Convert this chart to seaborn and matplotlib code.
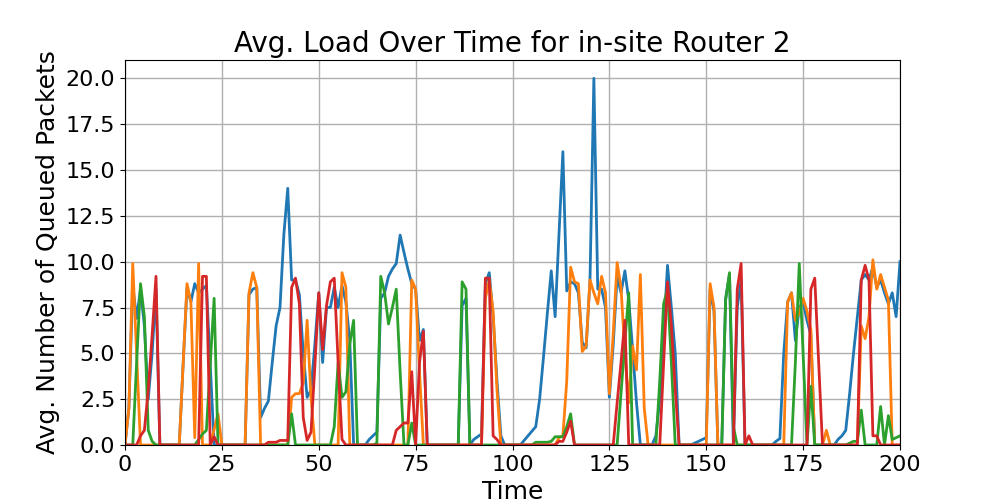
import matplotlib
matplotlib.use("Agg")
import matplotlib.pyplot as plt
import seaborn as sns
import pandas as pd
import numpy as np

time = list(range(0, 201))

# values, one per time step (rows of 10)
blue = [
    0, 2.0, 8.7, 6.9, 8.5, 6.5, 2.5, 5.0, 8.5, 0,
    0, 0, 0, 0, 0, 4.4, 8.6, 7.8, 8.8, 8.3,
    8.5, 8.7, 4.3, 0, 0, 0, 0, 0, 0, 0,
    0, 0, 8.2, 8.5, 8.6, 1.5, 2.0, 2.4, 4.5, 6.5,
    7.5, 11.5, 14.0, 9.0, 9.0, 8.2, 5.0, 2.6, 3.0, 5.5,
    8.3, 4.5, 7.5, 7.5, 8.6, 7.5, 8.7, 7.8, 5.7, 0,
    0, 0, 0, 0.3, 0.5, 0.7, 8.0, 8.3, 9.2, 9.6,
    9.9, 11.45, 10.5, 9.6, 8.8, 8.5, 5.7, 6.3, 0, 0,
    0, 0, 0, 0, 0, 0, 0, 7.6, 8.0, 0,
    0.3, 0.45, 0.6, 8.8, 9.4, 7.0, 3.5, 0.5, 0, 0,
    0, 0, 0, 0.25, 0.5, 0.75, 1.0, 2.5, 4.8, 7.2,
    9.5, 7.0, 11.5, 16.0, 8.4, 8.9, 8.8, 8.3, 5.6, 5.3,
    9.0, 20.0, 8.5, 8.5, 7.5, 2.6, 5.5, 9.2, 8.3, 9.5,
    7.9, 5.2, 2.3, 0, 0, 0, 0, 0.5, 2.5, 6.0,
    9.8, 7.5, 5.0, 0, 0, 0, 0, 0.1, 0.2, 0.3,
    0.4, 8.5, 7.3, 0, 0, 8.0, 9.3, 0, 7.5, 9.0,
    0, 0, 0, 0, 0, 0, 0, 0, 0.2, 0.35,
    5.0, 7.8, 8.3, 5.7, 7.5, 7.8, 6.8, 6.0, 0, 0,
    0, 0, 0, 0, 0.3, 0.5, 0.8, 2.8, 5.0, 7.0,
    9.0, 9.3, 9.0, 9.7, 8.6, 9.0, 8.3, 7.7, 8.3, 7.0,
    10.0,
]

orange = [
    0, 2.0, 9.9, 5.0, 0, 0, 0, 0, 0, 0,
    0, 0, 0, 0, 0, 4.4, 8.8, 7.8, 0.4, 9.9,
    0, 0, 0, 0.85, 1.7, 0, 0, 0, 0, 0,
    0, 0, 8.3, 9.4, 8.6, 0, 0, 0, 0, 0,
    0, 0, 0, 2.6, 2.8, 2.8, 3.4, 6.8, 2.6, 0,
    0, 0, 0, 0, 0, 0, 9.4, 8.6, 0, 0,
    0, 0, 0, 0, 0, 0, 0, 0, 0, 0,
    0, 0, 0, 0, 9.0, 8.5, 4.0, 0, 0, 0,
    0, 0, 0, 0, 0, 0, 0, 0, 0, 0,
    0, 0, 0, 8.0, 9.0, 7.3, 3.0, 0, 0, 0,
    0, 0, 0, 0, 0, 0, 0, 0, 0, 0,
    0, 0, 0.4, 0.5, 3.5, 9.7, 8.9, 8.8, 5.1, 5.4,
    9.0, 8.3, 7.7, 9.2, 8.3, 2.8, 6.1, 9.95, 8.6, 5.0,
    2.3, 5.4, 4.1, 9.3, 2.0, 0, 0, 0, 0, 0,
    0, 0, 0, 0, 0, 0, 0, 0, 0, 0,
    0, 8.8, 7.5, 0, 0, 0, 0, 0, 0, 0,
    0, 0, 0, 0, 0, 0, 0, 0, 0, 0,
    0, 7.8, 8.3, 6.8, 7.2, 8.0, 7.3, 6.3, 0, 0,
    0, 0.8, 0, 0, 0, 0, 0, 0, 0, 0,
    6.5, 5.8, 7.0, 10.1, 8.5, 9.3, 8.6, 7.9, 0, 0,
    0,
]

green = [
    0, 0, 0, 4.5, 8.8, 7.0, 0.8, 0.2, 0, 0,
    0, 0, 0, 0, 0, 0, 0, 0, 0, 0.3,
    0.6, 0.8, 4.4, 8.0, 0, 0, 0, 0, 0, 0,
    0, 0, 0, 0, 0, 0, 0, 0, 0, 0,
    0, 0, 0, 1.7, 0, 0, 0, 0, 0, 0,
    0, 0, 0, 0, 1.0, 4.5, 2.6, 2.9, 5.5, 6.8,
    0, 0, 0, 0, 0, 0.1, 9.2, 8.3, 6.6, 7.5,
    8.5, 4.0, 0, 0, 1.2, 0, 0, 0, 0, 0,
    0, 0, 0, 0, 0, 0, 0, 8.9, 8.5, 0,
    0, 0, 0, 0, 0, 0, 0, 0, 0, 0,
    0, 0, 0, 0, 0, 0, 0.15, 0.15, 0.15, 0.15,
    0.2, 0.45, 0.45, 0.45, 1.0, 1.7, 0, 0, 0, 0,
    0, 0, 0, 0, 0, 0, 0, 0, 2.8, 5.6,
    8.3, 0, 0, 0, 0, 0, 0, 0, 3.5, 7.7,
    8.5, 4.5, 0, 0, 0, 0, 0, 0, 0, 0,
    0, 0, 0, 0, 0, 7.9, 9.4, 1.0, 0, 0,
    0, 0, 0, 0, 0, 0, 0, 0, 0, 0,
    0, 0, 0, 4.5, 9.9, 5.0, 0, 3.2, 0, 0,
    0, 0, 0, 0, 0, 0, 0, 0.1, 0.2, 0.2,
    1.9, 0, 0, 0, 0, 2.1, 0, 1.6, 0.3, 0.4,
    0.5,
]

red = [
    0, 0, 0, 0, 0.5, 0.8, 3.0, 6.0, 9.2, 0,
    0, 0, 0, 0, 0, 0, 0, 0, 0, 0,
    9.2, 9.2, 0, 0.45, 0, 0, 0, 0, 0, 0,
    0, 0, 0, 0, 0, 0, 0, 0.15, 0.15, 0.15,
    0.25, 0.25, 0.25, 8.6, 9.1, 7.7, 1.5, 0.25, 0.7, 4.3,
    8.3, 5.2, 7.6, 8.9, 9.1, 4.5, 0.3, 0, 0, 0,
    0, 0, 0, 0, 0, 0, 0, 0, 0, 0,
    0.8, 1.0, 1.2, 1.2, 4.0, 0, 4.5, 6.2, 0, 0,
    0, 0, 0, 0, 0, 0, 0, 0, 0, 0,
    0, 0, 0, 9.1, 9.1, 0.5, 0.3, 0, 0, 0,
    0, 0, 0, 0, 0, 0, 0, 0, 0, 0,
    0, 0, 0.2, 0.2, 0.7, 1.3, 0, 0, 0, 0,
    0, 0, 0, 0, 0, 0, 0, 2.3, 4.5, 6.8,
    0, 0, 0, 0, 0, 0, 0, 0, 0, 4.5,
    8.9, 6.5, 3.0, 0, 0, 0, 0, 0, 0, 0,
    0, 0, 0, 0, 0, 0, 0, 0, 8.5, 9.9,
    0, 0.5, 0, 0, 0, 0, 0, 0, 0, 0,
    0, 0, 0, 0, 0, 0, 0, 8.5, 9.1, 4.5,
    0, 0, 0, 0, 0, 0, 0, 0, 0, 0,
    9.0, 9.8, 9.0, 0.5, 0.5, 0, 0, 0, 0, 0,
    0,
]

series = {"blue": blue, "orange": orange, "green": green, "red": red}
colors = {"blue": "#1f77b4", "orange": "#ff7f0e", "green": "#2ca02c", "red": "#d62728"}

frames = []
for name, values in series.items():
    frames.append(pd.DataFrame({"Time": time, "Load": values, "Series": name}))
df = pd.concat(frames, ignore_index=True)

fig, ax = plt.subplots(figsize=(10, 5), dpi=100)
sns.lineplot(data=df, x="Time", y="Load", hue="Series", palette=colors,
             linewidth=2, legend=False, ax=ax, estimator=None)

ax.set_xlim(0, 200)
ax.set_ylim(0, 21)
ax.set_yticks(np.arange(0, 20.1, 2.5))
ax.grid(True, color="#b0b0b0", linewidth=1)
ax.set_axisbelow(True)
ax.set_title("Avg. Load Over Time for in-site Router 2", fontsize=20)
ax.set_xlabel("Time", fontsize=18)
ax.set_ylabel("Avg. Number of Queued Packets", fontsize=18)
ax.tick_params(labelsize=16)

plt.savefig("out.png", dpi=100)
